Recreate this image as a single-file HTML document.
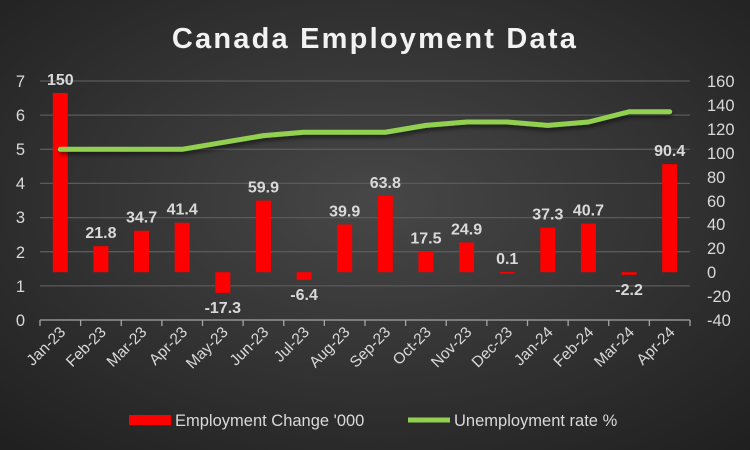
<!DOCTYPE html>
<html><head><meta charset="utf-8"><style>
html,body{margin:0;padding:0;}
body{width:750px;height:450px;overflow:hidden;}
svg{display:block;font-family:"Liberation Sans",sans-serif;}
</style></head><body>
<svg width="750" height="450" xmlns="http://www.w3.org/2000/svg">
<defs>
<radialGradient id="bg" cx="50%" cy="45%" r="75%">
<stop offset="0" stop-color="#474747"/><stop offset="1" stop-color="#1f1f1f"/>
</radialGradient>
<filter id="sh" x="-5%" y="-20%" width="110%" height="160%"><feDropShadow dx="1" dy="3" stdDeviation="2" flood-color="#000" flood-opacity="0.5"/></filter>
</defs>
<rect width="750" height="450" fill="url(#bg)"/>
<text x="375" y="48" text-anchor="middle" font-size="29" font-weight="bold" fill="#f2f2f2" letter-spacing="2.2">Canada Employment Data</text>
<g stroke="#5a5a5a" stroke-width="1.3">
<line x1="40" x2="690" y1="81" y2="81"/><line x1="40" x2="690" y1="115.1" y2="115.1"/>
<line x1="40" x2="690" y1="149.3" y2="149.3"/><line x1="40" x2="690" y1="183.4" y2="183.4"/>
<line x1="40" x2="690" y1="217.6" y2="217.6"/><line x1="40" x2="690" y1="251.7" y2="251.7"/>
<line x1="40" x2="690" y1="285.9" y2="285.9"/>
</g>
<g stroke="#a6a6a6" stroke-width="1.3">
<line x1="40" x2="690" y1="320" y2="320"/>
</g>
<g id="ticks" stroke="#a6a6a6" stroke-width="1.3"></g>
<g font-size="16.5" fill="#d9d9d9" text-anchor="end">
<text x="25" y="87">7</text><text x="25" y="121">6</text><text x="25" y="155">5</text><text x="25" y="189">4</text>
<text x="25" y="223">3</text><text x="25" y="258">2</text><text x="25" y="292">1</text><text x="25" y="326">0</text>
</g>
<g font-size="16.5" fill="#d9d9d9">
<text x="707" y="87">160</text><text x="707" y="111">140</text><text x="707" y="135">120</text><text x="707" y="159">100</text>
<text x="707" y="183">80</text><text x="707" y="207">60</text><text x="707" y="230">40</text><text x="707" y="254">20</text>
<text x="707" y="278">0</text><text x="707" y="302">-20</text><text x="707" y="326">-40</text>
</g>
<g id="bars"></g>
<polyline id="line" fill="none" stroke="#92d050" stroke-width="5" stroke-linejoin="round" stroke-linecap="round" filter="url(#sh)"/>
<g id="labels" font-size="16" font-weight="bold" fill="#d9d9d9" text-anchor="middle"></g>
<g id="xl" font-size="15.5" fill="#d9d9d9" text-anchor="end"></g>
<rect x="129" y="415" width="42" height="10" fill="#ff0000"/>
<text x="175" y="426" font-size="16.5" fill="#d9d9d9">Employment Change '000</text>
<line x1="408" x2="450" y1="420" y2="420" stroke="#92d050" stroke-width="5"/>
<text x="454" y="426" font-size="16.5" fill="#d9d9d9">Unemployment rate %</text>
<script>
var ns="http://www.w3.org/2000/svg";
var cats=["Jan-23","Feb-23","Mar-23","Apr-23","May-23","Jun-23","Jul-23","Aug-23","Sep-23","Oct-23","Nov-23","Dec-23","Jan-24","Feb-24","Mar-24","Apr-24"];
var emp=[150,21.8,34.7,41.4,-17.3,59.9,-6.4,39.9,63.8,17.5,24.9,0.1,37.3,40.7,-2.2,90.4];
var ur=[5.0,5.0,5.0,5.0,5.2,5.4,5.5,5.5,5.5,5.7,5.8,5.8,5.7,5.8,6.1,6.1];
var w=650/16,pts=[];
function el(t,a,p){var e=document.createElementNS(ns,t);for(var k in a)e.setAttribute(k,a[k]);p.appendChild(e);return e;}
for(var i=0;i<=16;i++)el("line",{x1:40+i*w,x2:40+i*w,y1:320,y2:326},document.getElementById("ticks"));
for(var i=0;i<16;i++){
 var cx=40+w/2+i*w, y0=272.2, y=272.2-emp[i]*1.195;
 el("rect",{x:cx-7.5,y:Math.min(y,y0),width:15,height:Math.max(Math.abs(y-y0),1.5),fill:"#ff0000"},document.getElementById("bars"));
 var t=el("text",{x:cx,y:emp[i]>=0?y-8:y+20},document.getElementById("labels"));t.textContent=emp[i];
 pts.push(cx+","+(320-ur[i]*34.14));
 var xl=el("text",{x:cx+6,y:333,transform:"rotate(-45 "+(cx+6)+" 333)"},document.getElementById("xl"));xl.textContent=cats[i];
}
document.getElementById("line").setAttribute("points",pts.join(" "));
</script>
</svg>
</body></html>
